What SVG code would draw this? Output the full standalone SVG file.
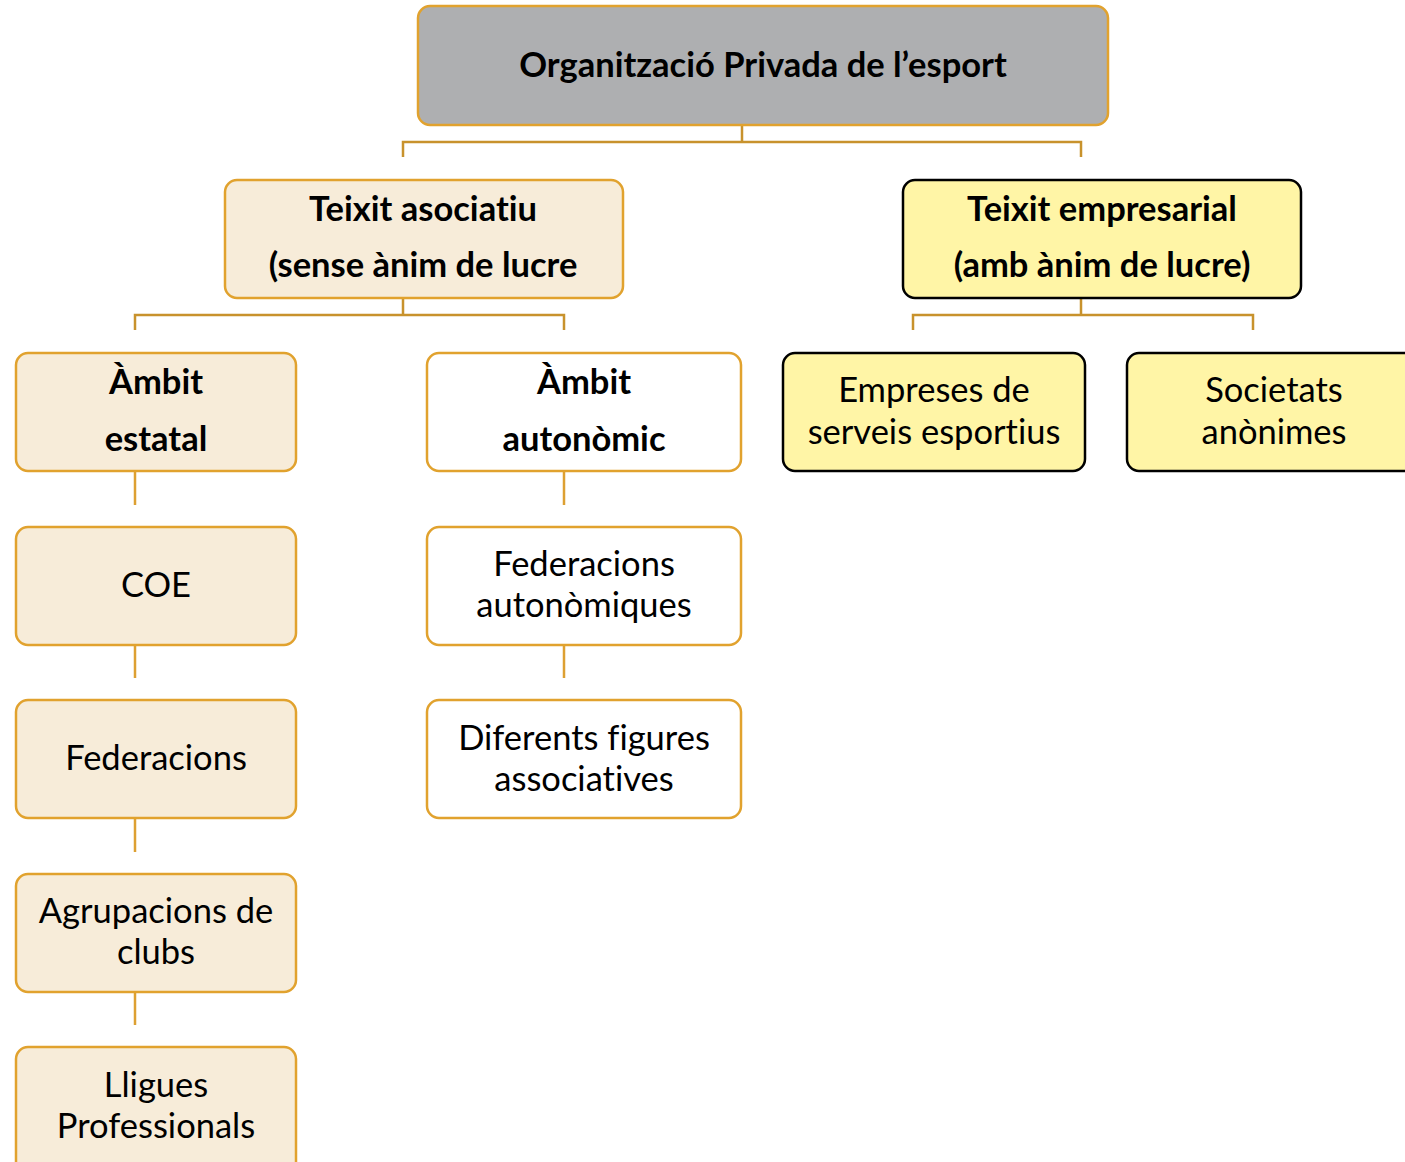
<svg xmlns="http://www.w3.org/2000/svg" width="1405" height="1162" viewBox="0 0 1405 1162">
<style>
  .box { stroke-width: 2.5; }
  .gray { fill: #AEAFB1; stroke: #E1A22E; }
  .cream { fill: #F7ECD9; stroke: #E1A22E; }
  .white { fill: #FFFFFF; stroke: #E1A22E; }
  .yellow { fill: #FFF5A6; stroke: #000000; }
  .conn { fill: none; stroke: #C8922C; stroke-width: 2.5; }
  .vconn { fill: none; stroke: #DDA032; stroke-width: 2.5; }
  .faint { fill: none; stroke: #E1A22E; stroke-width: 2.5; stroke-opacity: 0.25; }
  text { font-family: Lato, "Open Sans", sans-serif; fill: #000; text-anchor: middle; font-variant-ligatures: none; }
  .b { font-weight: bold; font-size: 34.5px; }
  .r { font-size: 34.5px; }
</style>
<rect width="1405" height="1162" fill="#FFFFFF"/>
<g id="connectors">
  <path class="faint" d="M742 106 V125 M403 280 V298 M1081 280 V298 M135 455 V471 M564 455 V471 M135 627 V645 M564 627 V645 M135 800 V818 M135 974 V992"/>
  <path class="conn" d="M742 125 V142 M403 157 V142 H1081 V157"/>
  <path class="conn" d="M403 298 V315 M135 330 V315 H564 V330"/>
  <path class="conn" d="M1081 298 V315 M913 330 V315 H1253 V330"/>
  <path class="vconn" d="M135 471 V505 M135 645 V678 M135 818 V852 M135 992 V1025 M564 471 V505 M564 645 V678"/>
</g>
<g id="node-root">
  <rect class="box gray" x="418" y="6" width="690" height="119" rx="12"/>
  <text class="b" x="763" y="77">Organització Privada de l’esport</text>
</g>
<g id="node-associatiu">
  <rect class="box cream" x="225" y="180" width="398" height="118" rx="12"/>
  <text class="b" x="423" y="221">Teixit asociatiu</text>
  <text class="b" x="423" y="277">(sense ànim de lucre</text>
</g>
<g id="node-empresarial">
  <rect class="box yellow" x="903" y="180" width="398" height="118" rx="12"/>
  <text class="b" x="1102" y="221">Teixit empresarial</text>
  <text class="b" x="1102" y="277">(amb ànim de lucre)</text>
</g>
<g id="node-estatal">
  <rect class="box cream" x="16" y="353" width="280" height="118" rx="12"/>
  <text class="b" x="156" y="394">Àmbit</text>
  <text class="b" x="156" y="451">estatal</text>
</g>
<g id="node-autonomic">
  <rect class="box white" x="427" y="353" width="314" height="118" rx="12"/>
  <text class="b" x="584" y="394">Àmbit</text>
  <text class="b" x="584" y="451">autonòmic</text>
</g>
<g id="node-empreses">
  <rect class="box yellow" x="783" y="353" width="302" height="118" rx="12"/>
  <text class="r" x="934" y="402">Empreses de</text>
  <text class="r" x="934" y="444">serveis esportius</text>
</g>
<g id="node-societats">
  <rect class="box yellow" x="1127" y="353" width="292" height="118" rx="12"/>
  <text class="r" x="1274" y="402">Societats</text>
  <text class="r" x="1274" y="444">anònimes</text>
</g>
<g id="node-coe">
  <rect class="box cream" x="16" y="527" width="280" height="118" rx="12"/>
  <text class="r" x="156" y="597">COE</text>
</g>
<g id="node-fedauto">
  <rect class="box white" x="427" y="527" width="314" height="118" rx="12"/>
  <text class="r" x="584" y="576">Federacions</text>
  <text class="r" x="584" y="617">autonòmiques</text>
</g>
<g id="node-federacions">
  <rect class="box cream" x="16" y="700" width="280" height="118" rx="12"/>
  <text class="r" x="156" y="770">Federacions</text>
</g>
<g id="node-figures">
  <rect class="box white" x="427" y="700" width="314" height="118" rx="12"/>
  <text class="r" x="584" y="750">Diferents figures</text>
  <text class="r" x="584" y="791">associatives</text>
</g>
<g id="node-agrupacions">
  <rect class="box cream" x="16" y="874" width="280" height="118" rx="12"/>
  <text class="r" x="156" y="923">Agrupacions de</text>
  <text class="r" x="156" y="964">clubs</text>
</g>
<g id="node-lligues">
  <rect class="box cream" x="16" y="1047" width="280" height="130" rx="12"/>
  <text class="r" x="156" y="1097">Lligues</text>
  <text class="r" x="156" y="1138">Professionals</text>
</g>
</svg>
